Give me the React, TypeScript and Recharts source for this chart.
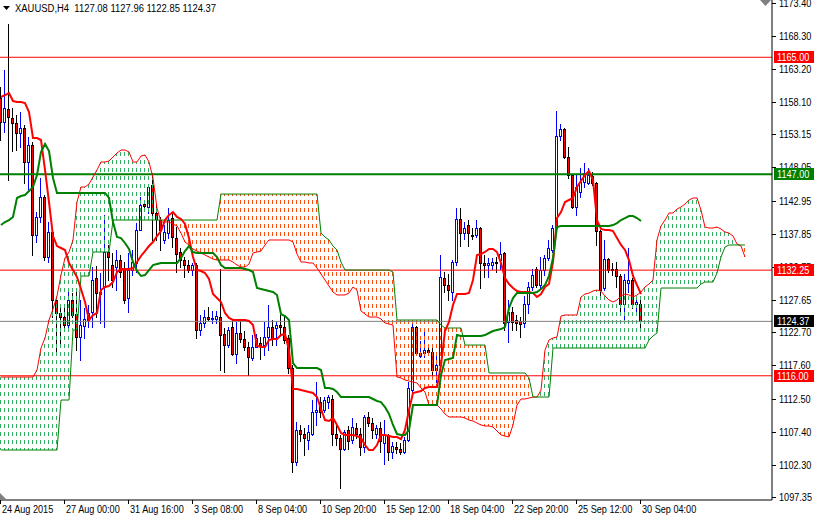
import React from 'react';
import { ComposedChart, Bar, Line, XAxis, YAxis, ReferenceLine } from 'recharts';

// ---- candles (XAUUSD H4) ----
const opens = [
  1158.7,1155.0,1157.0,1155.7,1154.9,1153.3,1154.1,1148.9,1151.5,1137.7,
  1140.4,1143.5,1134.3,1138.1,1127.7,1125.7,1125.0,1123.8,1127.7,1125.5,
  1122.0,1123.7,1124.6,1125.8,1131.0,1128.6,1129.7,1135.0,1133.0,1132.7,
  1133.8,1132.6,1128.0,1132.3,1133.3,1138.4,1142.4,1142.0,1145.4,1141.0,
  1140.0,1136.9,1138.0,1140.2,1137.2,1135.1,1133.8,1133.0,1132.3,1133.0,
  1123.0,1124.1,1125.1,1124.8,1124.8,1125.1,1122.4,1120.7,1123.5,1119.3,
  1122.6,1121.7,1120.5,1118.7,1120.5,1121.0,1120.7,1122.0,1123.5,1123.3,
  1123.8,1123.5,1121.8,1117.2,1102.8,1107.7,1107.1,1106.1,1107.1,1110.5,
  1112.0,1110.7,1112.0,1112.5,1107.1,1106.4,1104.8,1107.7,1106.1,1108.0,
  1107.1,1105.1,1109.7,1108.7,1107.1,1107.9,1105.6,1106.9,1104.3,1105.0,
  1104.8,1104.3,1106.1,1113.8,1123.5,1119.1,1119.5,1120.0,1119.7,1116.9,
  1117.7,1131.1,1130.0,1128.9,1133.5,1140.1,1137.9,1139.2,1137.7,1137.6,
  1138.7,1133.3,1133.0,1133.1,1133.5,1133.8,1134.9,1124.3,1125.8,1124.6,
  1124.5,1124.1,1127.0,1129.7,1132.5,1130.0,1132.3,1134.1,1135.3,1138.7,
  1152.9,1153.9,1149.7,1146.9,1142.0,1144.3,1145.8,1145.6,1146.7,1145.6,
  1138.2,1129.5,1133.9,1132.4,1132.4,1131.3,1127.0,1130.2,1130.7,1127.1,
  1127.08,
];
const highs = [
  1160.5,1163.0,1170.1,1157.2,1156.1,1156.6,1154.6,1152.7,1152.0,1141.2,
  1146.4,1143.8,1139.7,1138.4,1128.1,1126.9,1126.6,1129.2,1128.7,1129.5,
  1127.7,1126.4,1126.9,1132.7,1132.9,1131.8,1140.7,1136.1,1134.9,1135.4,
  1134.6,1133.5,1134.9,1135.4,1139.5,1143.5,1143.0,1145.4,1147.2,1142.3,
  1140.4,1139.2,1141.8,1141.2,1138.9,1135.6,1134.3,1133.8,1133.3,1133.3,
  1125.3,1126.1,1126.6,1125.9,1126.0,1132.5,1123.3,1123.5,1124.8,1124.3,
  1124.6,1122.9,1121.2,1122.3,1122.5,1122.0,1124.3,1126.9,1124.6,1124.3,
  1125.3,1125.3,1122.3,1117.7,1108.9,1108.4,1107.9,1108.4,1112.3,1115.1,
  1112.8,1112.8,1113.0,1113.0,1108.4,1106.9,1107.7,1108.2,1109.5,1108.7,
  1107.9,1110.0,1110.5,1109.5,1108.4,1108.9,1109.2,1107.1,1105.8,1105.8,
  1105.6,1106.6,1115.1,1124.3,1123.6,1121.4,1122.9,1120.7,1120.2,1119.2,
  1134.6,1132.0,1131.7,1133.8,1141.8,1141.8,1139.7,1140.0,1138.7,1140.0,
  1138.9,1134.6,1134.1,1134.1,1134.3,1136.6,1135.1,1127.7,1126.6,1125.3,
  1125.1,1128.2,1130.5,1132.5,1132.8,1134.3,1134.6,1136.9,1139.2,1156.7,
  1154.7,1154.1,1151.2,1147.1,1147.1,1147.9,1148.7,1147.9,1147.4,1145.8,
  1138.4,1136.9,1134.1,1133.3,1133.5,1131.7,1131.7,1135.6,1131.0,1127.9,
  1127.96,
];
const lows = [
  1152.3,1153.5,1146.1,1150.6,1150.7,1151.2,1145.7,1144.6,1134.6,1136.6,
  1139.7,1133.8,1133.5,1125.0,1119.5,1120.7,1123.4,1123.5,1125.0,1120.0,
  1118.4,1121.8,1123.5,1123.5,1125.0,1124.1,1123.5,1130.7,1129.7,1129.2,
  1131.2,1127.2,1125.8,1131.5,1132.0,1138.4,1141.5,1141.0,1136.9,1136.9,
  1135.4,1136.5,1137.2,1135.8,1132.0,1132.8,1131.2,1132.0,1131.5,1121.8,
  1122.3,1123.5,1124.6,1124.1,1124.1,1116.9,1116.6,1120.5,1119.2,1117.9,
  1121.2,1120.0,1116.1,1118.5,1120.4,1118.6,1119.2,1120.0,1120.7,1120.7,
  1122.3,1121.0,1116.4,1101.2,1102.3,1105.9,1103.8,1104.8,1106.9,1108.4,
  1109.7,1110.5,1111.0,1105.3,1105.3,1098.7,1104.6,1104.8,1105.6,1106.4,
  1103.8,1104.3,1108.2,1106.4,1106.4,1104.3,1102.5,1103.0,1103.3,1104.1,
  1103.9,1104.1,1105.9,1113.5,1119.2,1118.9,1118.9,1119.5,1116.1,1115.1,
  1117.2,1128.9,1127.7,1127.7,1133.0,1135.9,1137.1,1135.9,1137.1,1137.4,
  1129.5,1131.2,1131.2,1132.5,1132.0,1132.5,1123.0,1121.2,1123.0,1123.0,
  1121.9,1123.5,1125.6,1129.2,1129.7,1129.5,1131.5,1133.8,1135.1,1138.4,
  1152.3,1149.5,1146.4,1141.8,1140.7,1143.5,1145.1,1145.5,1145.3,1136.1,
  1128.4,1129.2,1132.0,1131.5,1129.7,1125.6,1124.3,1128.9,1126.4,1125.6,
  1122.85,
];
const closes = [
  1155.1,1157.2,1155.8,1154.9,1153.3,1154.1,1148.9,1151.5,1137.7,1140.4,
  1143.5,1134.3,1138.1,1127.7,1125.7,1125.0,1123.8,1127.7,1125.4,1122.0,
  1123.8,1124.7,1125.7,1130.7,1128.7,1128.9,1135.0,1134.3,1130.7,1133.8,
  1132.0,1127.7,1132.3,1133.5,1138.4,1142.3,1142.1,1145.0,1141.0,1140.1,
  1138.4,1138.1,1140.0,1137.4,1134.8,1133.8,1133.0,1132.3,1133.0,1123.0,
  1124.1,1125.1,1124.8,1124.9,1125.2,1122.3,1120.7,1123.0,1119.3,1122.6,
  1121.7,1120.5,1118.9,1120.5,1121.8,1120.6,1122.0,1123.5,1121.8,1123.8,
  1123.5,1121.5,1117.2,1102.8,1107.7,1107.1,1106.4,1107.4,1110.5,1110.8,
  1110.5,1112.3,1112.8,1107.1,1106.4,1104.8,1107.4,1105.9,1108.1,1107.0,
  1105.1,1109.7,1108.7,1107.7,1107.9,1105.9,1106.9,1104.3,1105.2,1104.7,
  1104.3,1106.1,1114.1,1123.5,1119.5,1119.5,1120.0,1119.7,1116.9,1117.7,
  1131.2,1130.0,1129.2,1133.5,1140.1,1137.9,1138.7,1137.9,1137.5,1138.7,
  1133.3,1133.0,1133.3,1133.5,1133.3,1134.8,1124.1,1125.8,1124.3,1124.1,
  1124.0,1127.0,1129.7,1131.5,1130.0,1132.3,1134.1,1135.6,1138.7,1152.9,
  1153.9,1149.7,1146.9,1142.0,1145.1,1145.8,1147.2,1146.9,1145.6,1138.2,
  1129.2,1133.9,1132.3,1132.2,1131.3,1127.0,1130.7,1130.7,1127.1,1127.4,
  1124.37,
];

// ---- Ichimoku lines ----
const tenkan = [
  1158.89,1159.19,1159.50,1158.27,1158.12,1158.12,1157.96,1156.58,1152.58,1152.58,
  1152.27,1147.66,1142.73,1137.50,1135.96,1135.66,1135.35,1133.35,1132.27,1131.19,
  1129.35,1127.35,1124.58,1125.35,1125.66,1129.19,1129.66,1129.81,1130.43,1131.96,
  1132.43,1132.43,1132.43,1132.58,1133.50,1134.43,1135.19,1135.96,1136.58,1137.50,
  1138.27,1139.96,1140.73,1141.19,1140.43,1140.12,1139.35,1137.19,1134.27,1132.27,
  1132.12,1131.81,1130.89,1128.58,1127.96,1127.35,1125.66,1124.89,1124.58,1124.58,
  1124.58,1124.58,1124.43,1123.81,1120.58,1120.43,1120.43,1121.50,1121.66,1121.66,
  1122.27,1122.43,1119.96,1113.96,1113.96,1113.81,1113.66,1113.50,1113.35,1112.73,
  1110.89,1109.19,1109.04,1109.50,1108.43,1107.19,1106.89,1106.89,1106.89,1106.73,
  1106.43,1105.35,1104.58,1104.58,1105.35,1106.89,1106.89,1106.73,1106.58,1106.58,
  1106.27,1107.66,1110.73,1113.35,1113.50,1113.66,1114.12,1114.27,1114.27,1114.27,
  1117.66,1122.89,1124.27,1126.89,1128.58,1128.58,1128.58,1128.73,1130.73,1134.58,
  1134.73,1135.04,1135.50,1135.50,1135.04,1133.35,1131.04,1130.12,1129.50,1129.04,
  1128.89,1128.89,1128.89,1128.73,1128.12,1128.58,1129.66,1130.12,1133.50,1140.27,
  1141.19,1142.73,1143.04,1143.35,1145.04,1145.96,1146.89,1147.50,1146.12,1139.96,
  1138.58,1138.43,1138.43,1138.27,1137.19,1136.12,1135.35,1133.81,1131.35,1129.96,
  1128.58,
];
const kijun = [
  1139.19,1139.66,1139.96,1140.43,1143.35,1143.66,1143.81,1144.43,1145.04,1146.89,
  1150.43,1151.66,1150.58,1146.43,1144.12,1144.12,1144.12,1144.12,1144.12,1144.12,
  1144.12,1144.12,1144.12,1144.12,1144.12,1144.12,1144.12,1143.35,1139.66,1137.35,
  1137.19,1136.43,1135.50,1133.50,1132.12,1131.35,1131.50,1132.27,1133.04,1133.19,
  1133.35,1133.35,1133.35,1133.35,1133.35,1134.12,1135.19,1135.96,1135.04,1134.89,
  1134.89,1134.89,1134.89,1134.89,1134.27,1133.04,1132.58,1132.58,1132.58,1132.58,
  1132.58,1132.43,1132.27,1131.96,1129.50,1129.35,1129.19,1129.04,1128.89,1128.43,
  1125.50,1125.19,1124.58,1117.96,1117.19,1117.19,1117.19,1117.19,1117.19,1117.19,
  1116.89,1114.12,1114.12,1113.96,1113.50,1112.73,1112.73,1112.73,1112.73,1112.73,
  1112.73,1112.73,1112.73,1112.43,1112.12,1111.96,1111.19,1110.12,1108.43,1107.04,
  1106.89,1106.89,1107.66,1111.50,1111.50,1111.50,1111.50,1111.50,1111.50,1111.50,
  1116.12,1118.43,1118.58,1118.73,1122.27,1122.12,1122.12,1122.12,1122.12,1122.12,
  1122.12,1122.27,1122.58,1122.89,1123.04,1123.19,1123.50,1126.43,1127.96,1128.73,
  1128.73,1128.73,1128.73,1128.73,1128.89,1129.35,1129.96,1131.35,1134.12,1138.89,
  1139.04,1139.04,1139.04,1139.04,1139.04,1139.04,1139.04,1139.04,1139.04,1139.04,
  1139.04,1139.04,1139.04,1139.19,1139.50,1139.96,1140.27,1140.58,1140.58,1140.27,
  1139.81,
];
const spanA = [
  1115.81,1115.81,1115.81,1115.81,1115.81,1115.81,1115.81,1115.81,1115.81,1116.89,
  1120.27,1121.81,1124.58,1126.27,1128.27,1131.50,1134.12,1135.04,1136.89,1142.73,
  1145.04,1145.04,1145.50,1146.58,1147.66,1148.89,1148.89,1149.04,1149.66,1150.27,
  1150.73,1150.73,1150.43,1148.89,1148.89,1149.81,1149.96,1148.89,1146.43,1141.81,
  1139.66,1139.66,1139.66,1139.35,1139.04,1137.96,1136.58,1136.12,1135.50,1135.19,
  1134.89,1134.58,1134.27,1133.96,1133.81,1133.81,1133.81,1133.81,1133.50,1133.04,
  1132.73,1132.73,1133.19,1134.89,1135.04,1135.19,1136.12,1136.89,1136.89,1136.89,
  1136.89,1136.89,1136.89,1136.58,1134.73,1133.50,1133.50,1133.35,1133.35,1132.58,
  1131.66,1130.73,1129.81,1128.89,1128.43,1128.43,1128.43,1128.73,1129.66,1129.19,
  1125.96,1125.50,1125.04,1125.04,1125.04,1124.73,1124.12,1123.96,1123.81,1115.81,
  1115.66,1115.35,1115.19,1115.04,1114.89,1114.12,1113.50,1111.50,1111.50,1111.50,
  1110.89,1110.12,1109.66,1109.66,1109.66,1109.66,1109.50,1109.19,1109.04,1108.73,
  1108.43,1108.27,1108.27,1108.12,1107.50,1106.89,1106.73,1106.58,1108.43,1111.50,
  1112.43,1112.43,1112.58,1112.73,1112.73,1113.81,1119.96,1121.50,1121.81,1121.96,
  1125.19,1125.35,1125.35,1125.35,1125.35,1128.12,1128.58,1128.73,1129.04,1129.19,
  1129.04,1128.27,1127.66,1127.35,1127.66,1128.27,1128.58,1128.43,1128.12,1128.43,
  1128.89,1129.66,1130.12,1130.73,1136.89,1139.04,1139.96,1141.04,1141.04,1141.66,
  1141.96,1142.43,1143.04,1143.35,1143.35,1141.50,1138.89,1138.73,1138.73,1138.89,
  1138.58,1138.12,1137.96,1137.50,1136.27,1135.96,1134.27,
];
const spanB = [
  1104.58,1104.58,1104.58,1104.58,1104.58,1104.58,1104.58,1104.58,1104.58,1104.58,
  1104.58,1104.58,1104.58,1104.58,1104.58,1112.27,1112.27,1112.27,1123.04,1123.04,
  1131.35,1131.35,1131.35,1135.04,1135.04,1135.04,1135.04,1135.04,1139.96,1139.96,
  1139.96,1139.96,1139.96,1139.96,1139.96,1139.96,1139.96,1139.96,1139.96,1139.96,
  1139.96,1139.96,1139.96,1139.96,1139.96,1139.96,1139.96,1139.96,1139.96,1139.96,
  1139.96,1139.96,1139.96,1139.96,1139.96,1143.96,1143.96,1143.96,1143.96,1143.96,
  1143.96,1143.96,1143.96,1143.96,1143.96,1143.96,1143.96,1143.96,1143.96,1143.96,
  1143.96,1143.96,1143.96,1143.96,1143.96,1143.96,1143.96,1143.96,1143.96,1143.96,
  1137.96,1137.35,1136.89,1135.96,1135.35,1133.50,1132.27,1132.27,1132.27,1132.27,
  1132.27,1132.27,1132.27,1132.27,1132.27,1132.27,1132.27,1132.27,1131.96,1124.58,
  1124.58,1124.58,1124.58,1124.58,1124.58,1124.58,1124.58,1124.58,1124.58,1124.58,
  1123.81,1123.35,1123.35,1123.35,1123.35,1123.35,1120.73,1120.73,1120.73,1120.73,
  1120.73,1120.73,1116.43,1116.43,1116.43,1116.43,1116.43,1116.43,1116.43,1116.43,
  1116.43,1116.43,1115.66,1112.73,1112.73,1112.73,1112.73,1112.73,1120.27,1120.27,
  1120.27,1120.27,1120.27,1120.27,1120.27,1120.27,1120.27,1120.27,1120.27,1120.27,
  1120.27,1120.27,1120.27,1120.27,1120.27,1120.27,1120.27,1120.27,1120.27,1120.27,
  1120.27,1120.27,1121.50,1122.12,1122.58,1129.50,1129.50,1129.50,1129.50,1129.50,
  1129.50,1129.50,1129.50,1129.50,1129.50,1130.12,1130.43,1130.43,1130.43,1131.81,
  1134.27,1135.81,1136.12,1136.12,1136.12,1136.12,1136.12,
];

// ---- axes ----
const xTickBars = [0, 16, 32, 48, 64, 80, 96, 112, 128, 144, 160];
const xTickLabels = [
  '24 Aug 2015', '27 Aug 00:00', '31 Aug 16:00', '3 Sep 08:00', '8 Sep 04:00',
  '10 Sep 20:00', '15 Sep 12:00', '18 Sep 04:00', '22 Sep 20:00', '25 Sep 12:00', '30 Sep 04:00',
];
const yTicks = [
  1173.40, 1168.30, 1163.20, 1158.10, 1153.15, 1148.05, 1142.95, 1137.85,
  1132.75, 1127.65, 1122.70, 1117.60, 1112.50, 1107.40, 1102.30, 1097.35,
];
const levelPrices = [1165.0, 1147.0, 1132.25, 1124.37, 1116.0];
const levelLineColors = ['#FF0000', '#008000', '#FF0000', '#808080', '#FF0000'];
const levelLineWidths = [1, 2, 1, 1, 1];
const levelTagColors = ['#FF0000', '#008000', '#FF0000', '#000000', '#FF0000'];

const title = 'XAUUSD,H4  1127.08 1127.96 1122.85 1124.37';
const FONT = "'Liberation Sans', Arial, sans-serif";
const SQUEEZE = 0.83;
const CLOUD_UP = '#33AD62';
const CLOUD_DOWN = '#FF4D10';

const rows = spanA.map((a, i) => {
  const b = spanB[i];
  const has = i < opens.length;
  return {
    i,
    o: has ? opens[i] : null,
    h: has ? highs[i] : null,
    l: has ? lows[i] : null,
    c: has ? closes[i] : null,
    tenkan: has ? tenkan[i] : null,
    kijun: has ? kijun[i] : null,
    spanA: a,
    spanB: b,
    cloud: [Math.min(a, b), Math.max(a, b)],
  };
});

const Candle = (props: any) => {
  const { x, y, width, height, payload } = props;
  if (!payload || payload.o == null || !isFinite(y) || !isFinite(height)) return <g />;
  const top = Math.min(y, y + height);
  const bot = Math.max(y, y + height);
  const k = (bot - top) / (payload.h - payload.l);
  const py = (v: number) => top + (payload.h - v) * k;
  const cx = x + width / 2;
  const left = Math.floor(cx) - 1;
  const bull = payload.c >= payload.o;
  const bt = Math.round(Math.min(py(payload.o), py(payload.c)));
  const bb = Math.round(Math.max(py(payload.o), py(payload.c)));
  const col = bull ? '#0000FF' : '#000000';
  return (
    <g shapeRendering="crispEdges">
      <line x1={left + 1.5} x2={left + 1.5} y1={Math.round(top)} y2={Math.round(bot) + 1} stroke={col} strokeWidth={1} />
      <rect x={left + 0.5} y={bt + 0.5} width={2} height={Math.max(bb - bt, 0)} fill={bull ? '#FFFFFF' : '#FF0000'} stroke={col} strokeWidth={1} />
    </g>
  );
};

// one dotted vertical stroke per bar between the two spans (MT4 histogram style)
const CloudStroke = (props: any) => {
  const { x, y, width, height, payload } = props;
  if (!payload || !isFinite(y) || !isFinite(height)) return <g />;
  const top = Math.round(Math.min(y, y + height));
  const bot = Math.round(Math.max(y, y + height));
  if (bot - top < 1) return <g />;
  const px = Math.floor(x + width / 2) + 0.5;
  const up = payload.spanA >= payload.spanB;
  return (
    <line
      x1={px}
      x2={px}
      y1={top}
      y2={bot}
      stroke={up ? CLOUD_UP : CLOUD_DOWN}
      strokeWidth={1}
      strokeDasharray="4 4"
      strokeDashoffset={top % 8}
      shapeRendering="crispEdges"
    />
  );
};

const SmallText = ({ x, y, fill, children }: any) => (
  <text transform={`translate(${x},${y}) scale(${SQUEEZE},1)`} x={0} y={0} fill={fill} fontSize={11} fontFamily={FONT} textAnchor="start">
    {children}
  </text>
);

const YTick = (props: any) => {
  const { x, y, payload } = props;
  const v = payload.value;
  const idx = levelPrices.findIndex((p) => Math.abs(p - v) < 1e-6);
  if (idx >= 0) {
    return (
      <g>
        <rect x={x + 2} y={Math.round(y) - 6} width={40} height={12} fill={levelTagColors[idx]} shapeRendering="crispEdges" />
        <SmallText x={x + 5} y={y + 4} fill="#FFFFFF">{v.toFixed(2)}</SmallText>
      </g>
    );
  }
  return (
    <g>
      <line x1={x} x2={x + 4} y1={Math.round(y) + 0.5} y2={Math.round(y) + 0.5} stroke="#000" shapeRendering="crispEdges" />
      <SmallText x={x + 7} y={y + 4} fill="#000">{v.toFixed(2)}</SmallText>
    </g>
  );
};

const XTick = (props: any) => {
  const { x, y, payload } = props;
  const idx = xTickBars.indexOf(payload.value);
  const label = idx >= 0 ? xTickLabels[idx] : '';
  return (
    <g>
      <line x1={Math.round(x) - 0.5} x2={Math.round(x) - 0.5} y1={y} y2={y + 4} stroke="#000" shapeRendering="crispEdges" />
      <SmallText x={x + 1} y={y + 13} fill="#000">{label}</SmallText>
    </g>
  );
};

export default function App() {
  return (
    <div style={{ position: 'absolute', left: 0, top: 0, width: 814, height: 516, background: '#fff', overflow: 'hidden' }}>
      <ComposedChart width={814} height={516} data={rows} margin={{ top: 0, right: 0, bottom: 0, left: 0 }}>
        <XAxis
          dataKey="i"
          type="number"
          domain={[-0.25, 192.75]}
          allowDataOverflow
          ticks={xTickBars}
          interval={0}
          tickSize={0}
          tickMargin={0}
          height={16}
          axisLine={{ stroke: '#000' }}
          tick={<XTick />}
        />
        <XAxis xAxisId="cloud" dataKey="i" type="number" domain={[-0.25, 192.75]} allowDataOverflow hide />
        <YAxis
          orientation="right"
          type="number"
          domain={[1096.89, 1173.81]}
          allowDataOverflow
          ticks={[...yTicks, ...levelPrices]}
          interval={0}
          tickSize={0}
          tickMargin={0}
          tickLine={false}
          width={42}
          axisLine={{ stroke: '#000' }}
          tick={<YTick />}
        />
        {levelPrices.map((p, k) => (
          <ReferenceLine key={p} y={p} stroke={levelLineColors[k]} strokeWidth={levelLineWidths[k]} ifOverflow="hidden" />
        ))}
        <Bar dataKey={(d: any) => (d.h == null ? null : [d.l, d.h])} barSize={3} shape={<Candle />} isAnimationActive={false} />
        <Bar xAxisId="cloud" dataKey="cloud" barSize={1} shape={<CloudStroke />} isAnimationActive={false} />
        <Line type="linear" dataKey="spanA" stroke="#FF0000" strokeWidth={1} dot={false} activeDot={false} isAnimationActive={false} />
        <Line type="linear" dataKey="spanB" stroke="#008000" strokeWidth={1} dot={false} activeDot={false} isAnimationActive={false} />
        <Line type="linear" dataKey="tenkan" stroke="#FF0000" strokeWidth={2} dot={false} activeDot={false} isAnimationActive={false} />
        <Line type="linear" dataKey="kijun" stroke="#008000" strokeWidth={2} dot={false} activeDot={false} isAnimationActive={false} />
      </ComposedChart>
      <svg width={814} height={516} style={{ position: 'absolute', left: 0, top: 0, pointerEvents: 'none' }}>
        <polygon points="3,6 10,6 6.5,10" fill="#000" />
        <polygon points="760,0 771,0 765.5,6" fill="#808080" />
        <polygon points="0,493 0,500 7,500" fill="#808080" />
        <text transform="translate(15,12) scale(0.86,1)" x={0} y={0} fontSize={11} fontFamily={FONT} fill="#000" style={{ whiteSpace: 'pre' }}>{title}</text>
      </svg>
    </div>
  );
}
